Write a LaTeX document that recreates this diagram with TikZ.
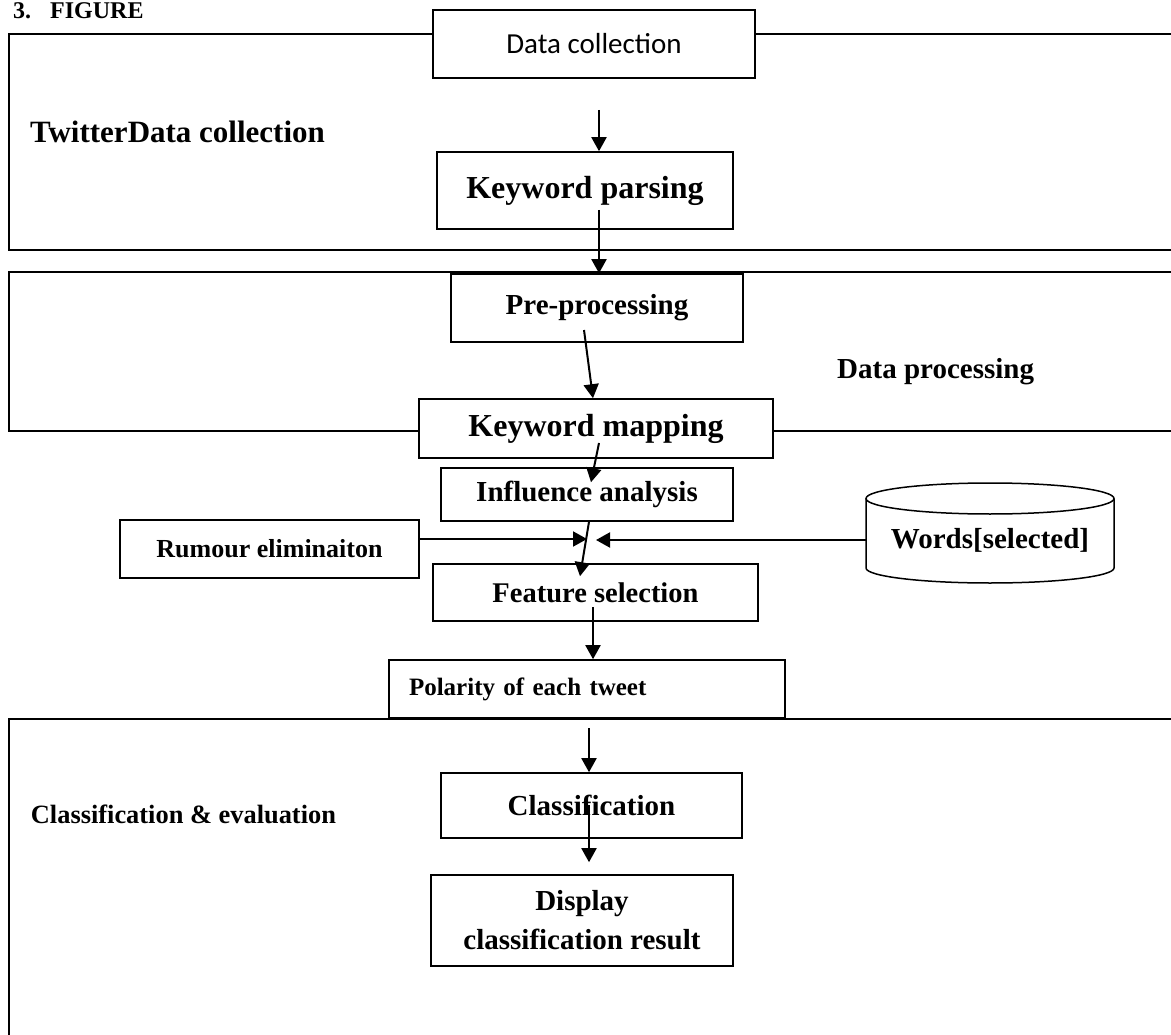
\documentclass[tikz,border=0pt]{standalone}
\usepackage{fontspec}
\setmainfont{Liberation Serif}
\newfontfamily\calibri{Carlito}
\usetikzlibrary{arrows.meta,calc}
\newcommand\fsz[2]{\fontsize{#1}{#2}\selectfont}
\begin{document}
\begin{tikzpicture}[x=1pt,y=-1pt,
  box/.style={draw,line width=1.6pt,rectangle,inner sep=0pt},
  frame/.style={line width=2pt},
  arr/.style={line width=2pt,-{Triangle[length=14pt,width=15pt]}},
  lbl/.style={inner sep=0pt,anchor=base west}
]
\useasboundingbox (0,0) rectangle (1171,1035);

% section frames
\draw[frame] (433,34) -- (9,34) -- (9,250) -- (1180,250);
\draw[frame] (755,34) -- (1180,34);
\draw[frame] (1180,272) -- (9,272) -- (9,431) -- (419,431);
\draw[frame] (773,431) -- (1180,431);
\draw[line width=2.6pt] (1180,719) -- (9,719) -- (9,1040);

% section labels
\node[lbl,font=\bfseries\fsz{24}{28}] (fig) at (13,19) {3.\hspace{19pt}FIGURE};
\node[lbl,font=\bfseries\fsz{31}{36}] (l1) at (30,143) {TwitterData collection};
\node[lbl,font=\bfseries\fsz{29}{34}] (l2) at (837,378) {Data processing};
\node[lbl,font=\bfseries\fsz{26.4}{31}] (l3) at (30.7,823) {Classification \& evaluation};

% boxes
\node[box,minimum width=322pt,minimum height=68pt,font=\calibri\fsz{29}{35}] (dc) at (594,44) {Data collection};
\node[box,minimum width=296pt,minimum height=77pt,font=\bfseries\fsz{32}{38}] (kp) at (585,190.5) {Keyword parsing};
\node[box,minimum width=292pt,minimum height=68pt,font=\bfseries\fsz{29}{35}] (prep) at (597,308) {Pre-processing};
\node[box,minimum width=354pt,minimum height=59pt,font=\bfseries\fsz{32}{38}] (km) at (596,428.5) {Keyword mapping};
\node[box,minimum width=292pt,minimum height=53pt,font=\bfseries\fsz{29}{35}] (ia) at (587,494.5) {Influence analysis};
\node[box,minimum width=299pt,minimum height=58pt,font=\bfseries\fsz{26}{31}] (re) at (269.5,549) {Rumour eliminaiton};
\node[box,minimum width=325pt,minimum height=57pt,font=\bfseries\fsz{28.5}{34}] (fs) at (595.5,592.5) {Feature selection};
\node[box,minimum height=58pt,inner xsep=20pt,text width=356pt,align=left,font=\bfseries\fsz{25}{30}] (pol) at (587,689) {Polarity of each tweet};
\node[box,minimum width=301pt,minimum height=65pt,font=\bfseries\fsz{29}{35}] (cls) at (591.5,805.5) {Classification};
\node[box,minimum width=302pt,minimum height=91pt,align=center,font=\bfseries\fsz{29}{39}] (disp) at (582,920.5) {Display\\classification result};

% cylinder
\draw[line width=1.5pt] (990,498.5) ellipse[x radius=124, y radius=15.5];
\draw[line width=1.5pt] (866,498.5) -- (866,568) arc[start angle=180,end angle=0,x radius=124,y radius=15] -- (1114,498.5);
\node[inner sep=0pt,minimum width=248pt,minimum height=70pt,font=\bfseries\fsz{29}{35}] (words) at (990,540) {Words[selected]};

% connectors
\coordinate (c1) at (599,110);
\draw[arr] (c1) -- (c1 |- kp.north);
\coordinate (c2) at (599,210);
\draw[arr] (c2) -- (c2 |- prep.north);
\coordinate (c3) at (584,330);
\draw[arr] (c3) -- ($(km.north)+(-3,0)$);
\coordinate (c4) at (599,443);
\draw[arr] (c4) -- ($(ia.north)+(4,15)$);
\draw[arr] ($(ia.south)+(2,0)$) -- ($(fs.north)+(-15.5,13)$);
\coordinate (j1) at (587,539);
\draw[arr] ($(re.east)+(0,-10)$) -- (j1);
\coordinate (j2) at (596,540);
\draw[arr] (words.west) -- (j2);
\coordinate (c8) at (593,607);
\draw[arr] (c8) -- (c8 |- pol.north);
\coordinate (c9) at (589,728);
\draw[arr] (c9) -- (c9 |- cls.north);
\coordinate (c10) at (589,805);
\draw[arr] (c10) -- ($(disp.north)+(7,-12)$);
\end{tikzpicture}
\end{document}
